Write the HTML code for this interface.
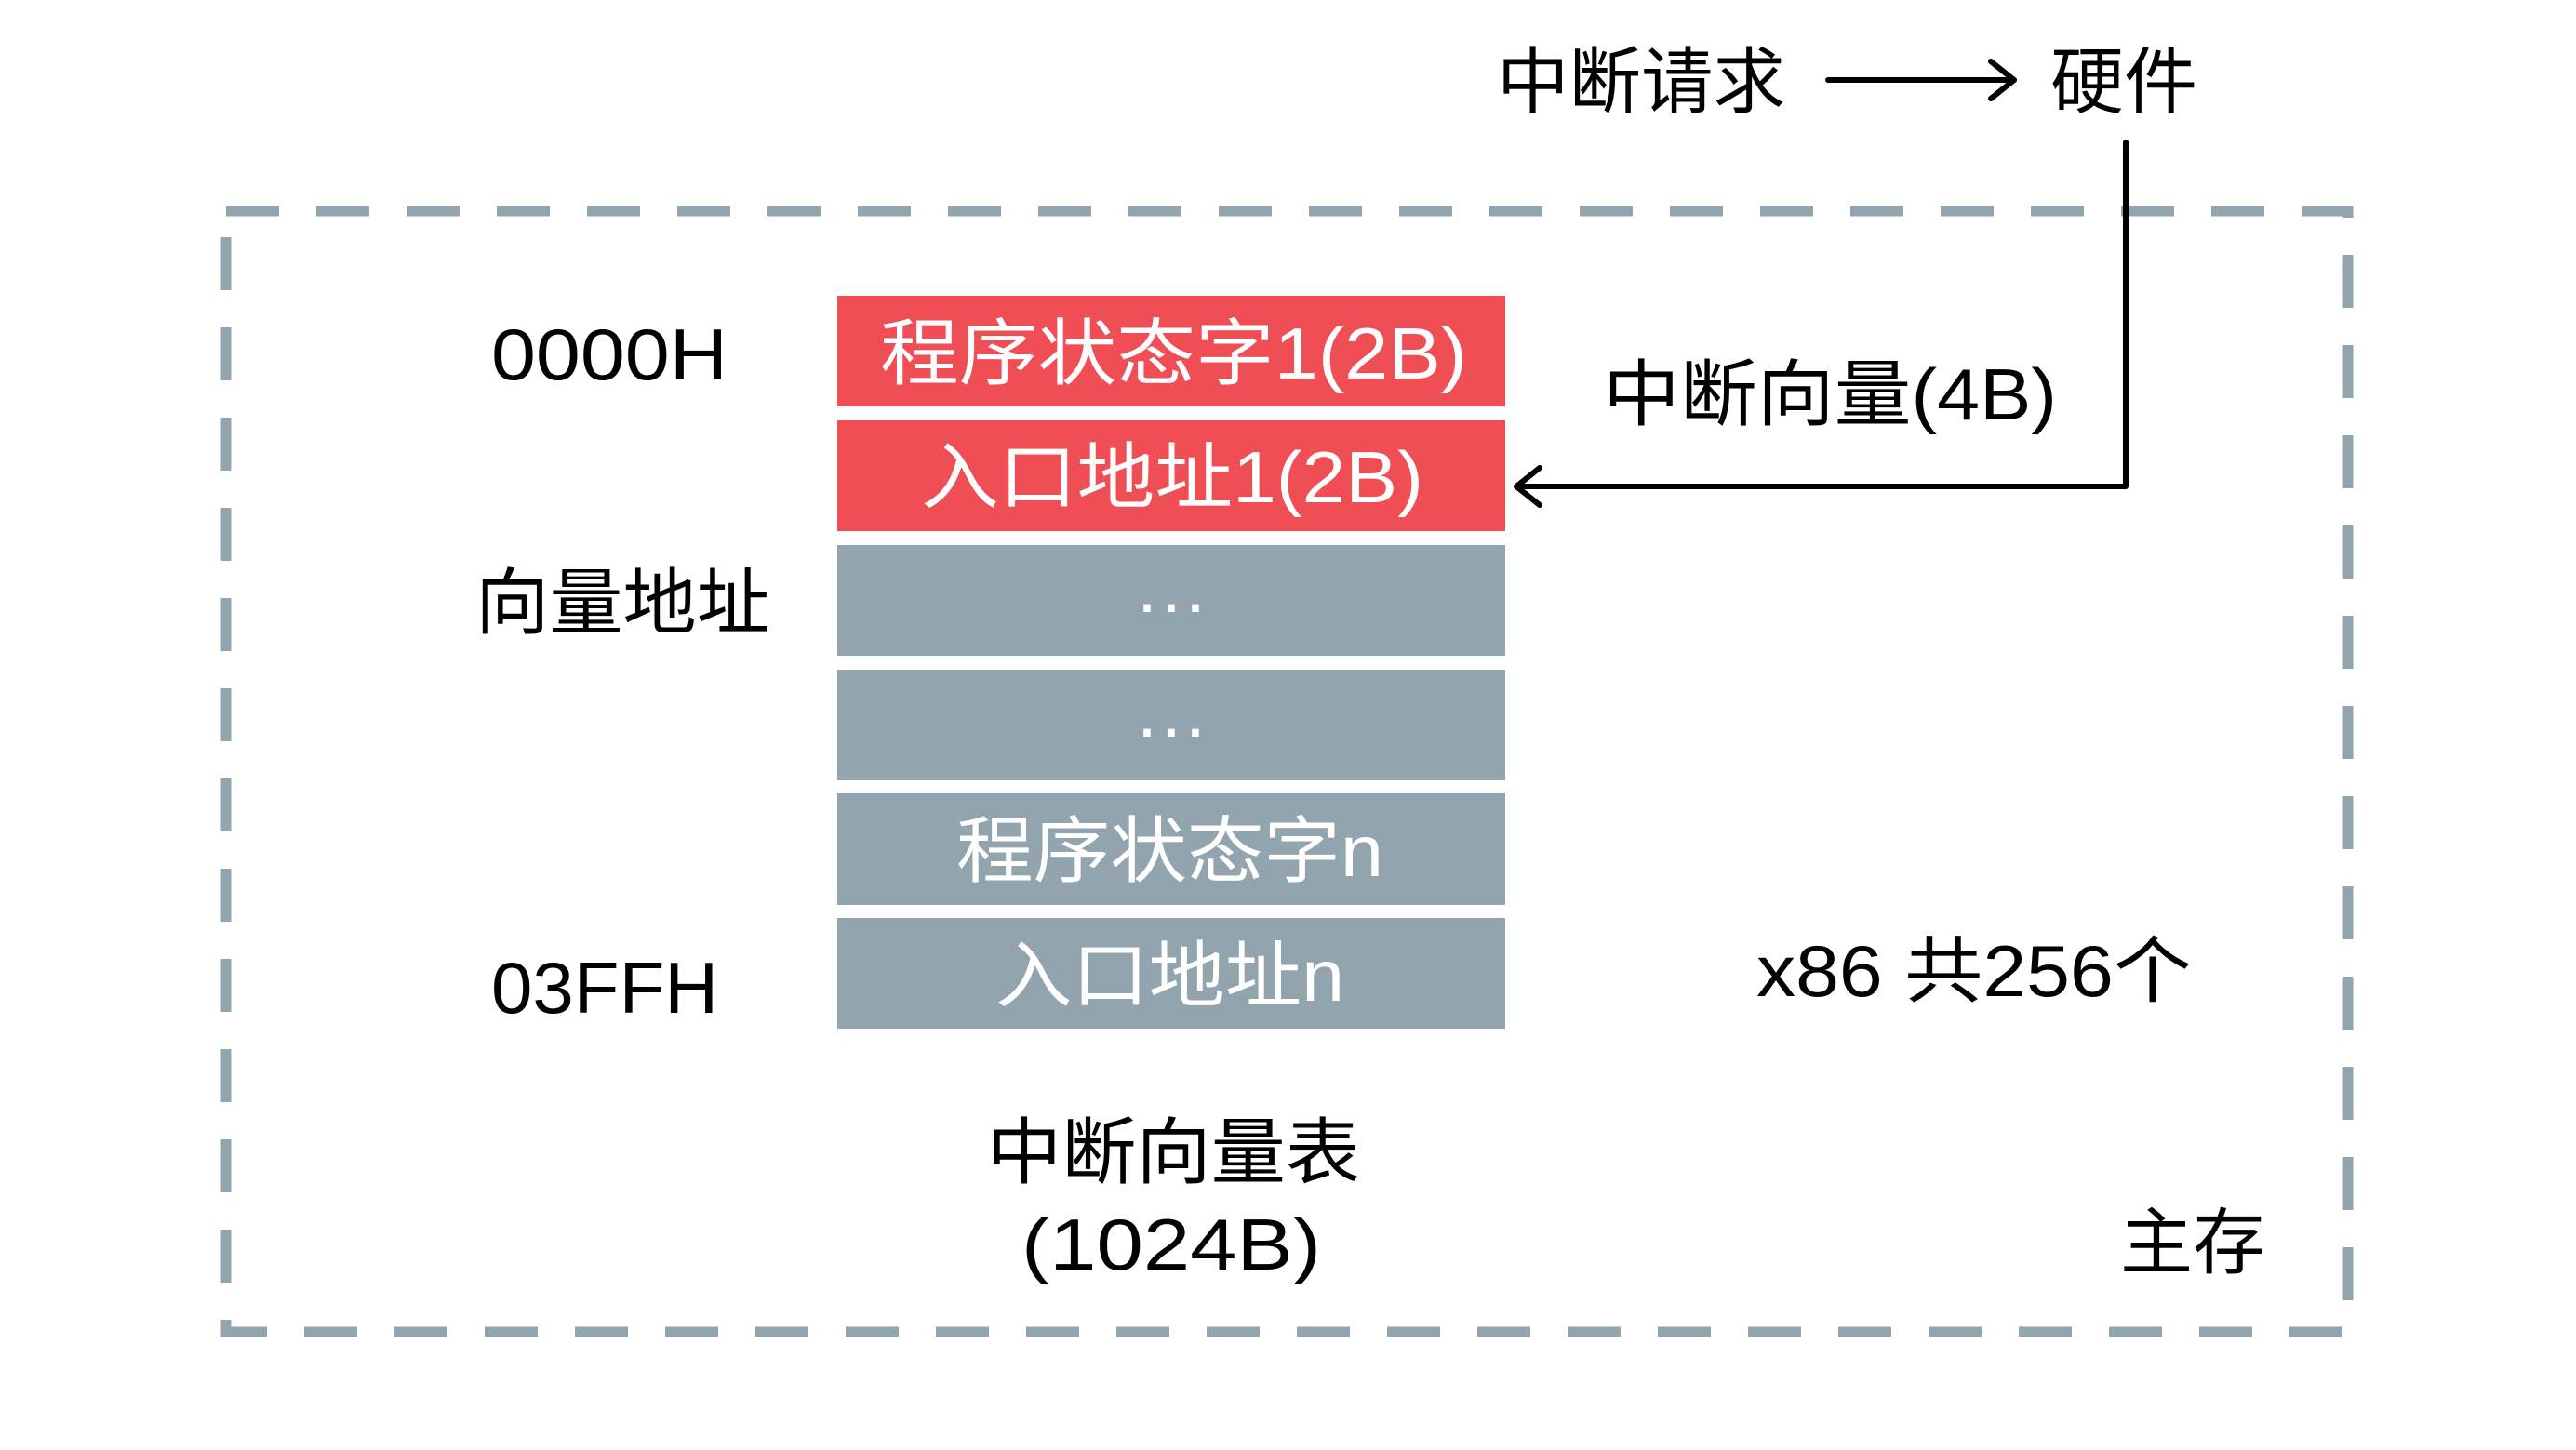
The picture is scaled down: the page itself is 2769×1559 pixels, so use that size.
<!DOCTYPE html>
<html><head><meta charset="utf-8"><style>
html,body{margin:0;padding:0;background:#fff;}
svg{display:block;}
text{font-family:"Liberation Sans","Noto Sans CJK SC",sans-serif;font-size:78px;dominant-baseline:central;}
</style></head><body>
<svg width="2769" height="1559" viewBox="0 0 2769 1559" xmlns="http://www.w3.org/2000/svg">
<rect x="243" y="227" width="2281" height="1205" fill="none" stroke="#92A5AE" stroke-width="11" stroke-dasharray="57 40"/>
<g fill="#F04E55">
<rect x="900" y="318" width="718" height="119"/>
<rect x="900" y="452" width="718" height="119"/>
</g>
<g fill="#92A5AE">
<rect x="900" y="586" width="718" height="119"/>
<rect x="900" y="720" width="718" height="119"/>
<rect x="900" y="853" width="718" height="120"/>
<rect x="900" y="987" width="718" height="119"/>
</g>
<g fill="#fff">
<text x="946" y="380" textLength="631" lengthAdjust="spacingAndGlyphs">程序状态字1(2B)</text>
<text x="990" y="513" textLength="540" lengthAdjust="spacingAndGlyphs">入口地址1(2B)</text>
<text x="1259" y="648" text-anchor="middle" font-size="60">···</text>
<text x="1259" y="782" text-anchor="middle" font-size="60">···</text>
<text x="1028" y="915" textLength="459" lengthAdjust="spacingAndGlyphs">程序状态字n</text>
<text x="1070" y="1049" textLength="375" lengthAdjust="spacingAndGlyphs">入口地址n</text>
</g>
<g fill="#000">
<text x="1609" y="88" textLength="310" lengthAdjust="spacingAndGlyphs">中断请求</text>
<text x="2204" y="88" textLength="158" lengthAdjust="spacingAndGlyphs">硬件</text>
<text x="528" y="381" textLength="254" lengthAdjust="spacingAndGlyphs">0000H</text>
<text x="511" y="648" textLength="317" lengthAdjust="spacingAndGlyphs">向量地址</text>
<text x="528" y="1062" textLength="244" lengthAdjust="spacingAndGlyphs">03FFH</text>
<text x="1723" y="424" textLength="488" lengthAdjust="spacingAndGlyphs">中断向量(4B)</text>
<text x="1888" y="1044" textLength="468" lengthAdjust="spacingAndGlyphs">x86 共256个</text>
<text x="1061" y="1239" textLength="401" lengthAdjust="spacingAndGlyphs">中断向量表</text>
<text x="1098" y="1338" textLength="322" lengthAdjust="spacingAndGlyphs">(1024B)</text>
<text x="2279" y="1336" textLength="156" lengthAdjust="spacingAndGlyphs">主存</text>
</g>
<g stroke="#000" stroke-width="6" fill="none" stroke-linecap="round" stroke-linejoin="round">
<line x1="1965" y1="86" x2="2165" y2="86"/>
<polyline points="2140,66 2165,86 2140,106"/>
<polyline points="2285,153 2285,523 1630,523"/>
<polyline points="1655,503 1630,523 1655,543"/>
</g>
</svg>
</body></html>
